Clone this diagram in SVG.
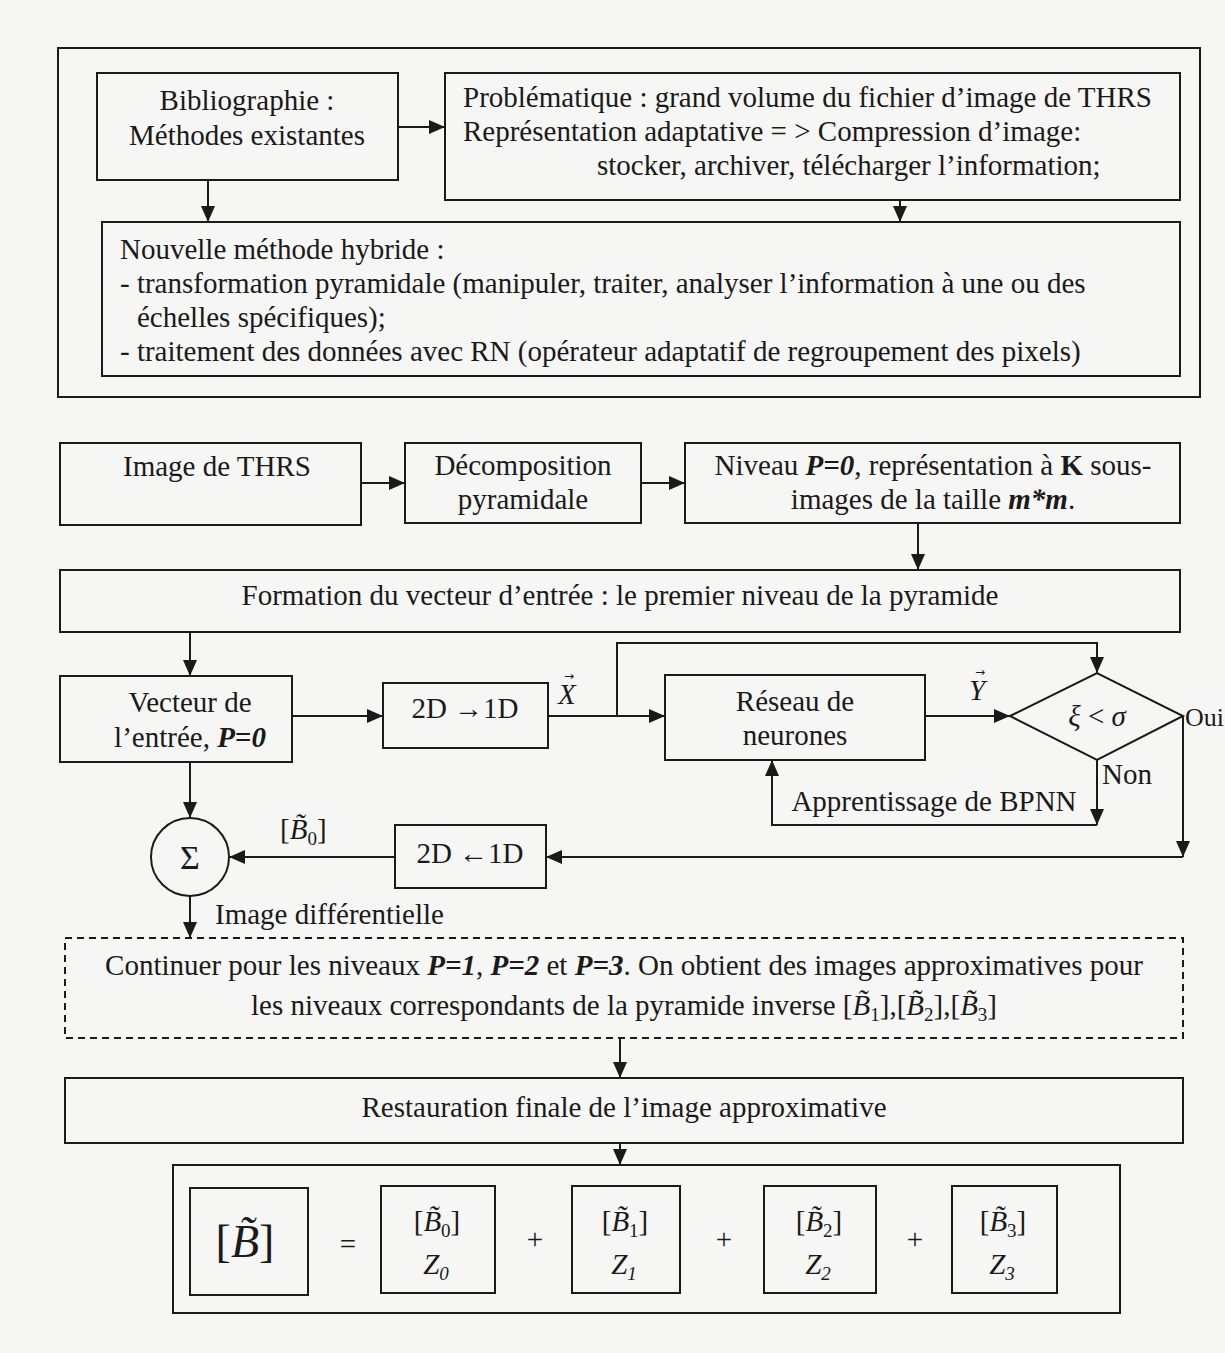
<svg xmlns="http://www.w3.org/2000/svg" width="1225" height="1353" viewBox="0 0 1225 1353">
<style>
.bx{fill:none;stroke:#1a1a1a;stroke-width:2}
.ln{fill:none;stroke:#1a1a1a;stroke-width:2}
.t{font-family:"Liberation Serif","Times New Roman",serif;font-size:29px;fill:#1a1a1a}
.c{text-anchor:middle}
.bi{font-weight:bold;font-style:italic}
.i{font-style:italic}
.sub{font-size:19px}
.vec{font-family:"DejaVu Sans",sans-serif;font-size:12px;fill:#1a1a1a}
</style>
<defs>
<marker id="ar" markerUnits="userSpaceOnUse" markerWidth="16" markerHeight="14" refX="16" refY="7" orient="auto">
<path d="M0,0 L16,7 L0,14 z" fill="#1a1a1a"/>
</marker>
</defs>
<rect width="1225" height="1353" fill="#f6f6f4"/>

<g id="outer-top"><rect class="bx" x="58" y="48" width="1142" height="349" stroke-width="1.5"/></g>

<g id="biblio"><rect class="bx" x="97" y="73" width="301" height="107"/>
<text class="t c" x="247" y="110">Bibliographie :</text>
<text class="t c" x="247" y="145">Méthodes existantes</text></g>

<g id="problematique"><rect class="bx" x="445" y="73" width="735" height="127"/>
<text class="t" x="463" y="107">Problématique : grand volume du fichier d’image de THRS</text>
<text class="t" x="463" y="141">Représentation adaptative = &gt; Compression d’image:</text>
<text class="t" x="597" y="175">stocker, archiver, télécharger l’information;</text></g>

<g id="nouvelle"><rect class="bx" x="102" y="222" width="1078" height="154"/>
<text class="t" x="120" y="259">Nouvelle méthode hybride :</text>
<text class="t" x="120" y="293">- transformation pyramidale (manipuler, traiter, analyser l’information à une ou des</text>
<text class="t" x="137" y="327">échelles spécifiques);</text>
<text class="t" x="120" y="361">- traitement des données avec RN (opérateur adaptatif de regroupement des pixels)</text></g>

<g id="image-thrs"><rect class="bx" x="60" y="443" width="301" height="82"/>
<text class="t c" x="217" y="476">Image de THRS</text></g>

<g id="decomposition"><rect class="bx" x="405" y="443" width="236" height="80"/>
<text class="t c" x="523" y="475">Décomposition</text>
<text class="t c" x="523" y="509">pyramidale</text></g>

<g id="niveau"><rect class="bx" x="685" y="443" width="495" height="80"/>
<text class="t c" x="933" y="475">Niveau <tspan class="bi">P=0</tspan>, représentation à <tspan font-weight="bold">K</tspan> sous-</text>
<text class="t c" x="933" y="509">images de la taille <tspan class="bi">m*m</tspan>.</text></g>

<g id="formation"><rect class="bx" x="60" y="570" width="1120" height="62"/>
<text class="t c" x="620" y="605">Formation du vecteur d’entrée : le premier niveau de la pyramide</text></g>

<g id="vecteur"><rect class="bx" x="60" y="676" width="232" height="86"/>
<text class="t c" x="190" y="712">Vecteur de</text>
<text class="t c" x="190" y="747">l’entrée, <tspan class="bi">P=0</tspan></text></g>

<g id="to1d"><rect class="bx" x="383" y="683" width="165" height="65"/>
<text class="t c" x="465" y="718">2D →1D</text></g>

<g id="reseau"><rect class="bx" x="665" y="675" width="260" height="85"/>
<text class="t c" x="795" y="711">Réseau de</text>
<text class="t c" x="795" y="745">neurones</text></g>

<g id="decision"><polygon class="bx" points="1010,716 1097,673 1183,716 1097,760"/>
<text class="t c" x="1097" y="726"><tspan class="i">ξ</tspan> &lt; <tspan class="i">σ</tspan></text></g>

<g id="to2d"><rect class="bx" x="395" y="825" width="151" height="63"/>
<text class="t c" x="470" y="863">2D ←1D</text></g>

<g id="sigma"><circle class="bx" cx="190" cy="857" r="39"/>
<text class="t c" x="190" y="869" style="font-size:34px">Σ</text></g>

<g id="continuer"><rect class="bx" x="65" y="938" width="1118" height="100" stroke-dasharray="7,5" stroke-width="1.6"/>
<text class="t c" x="624" y="975">Continuer pour les niveaux <tspan class="bi">P=1</tspan>, <tspan class="bi">P=2</tspan> et <tspan class="bi">P=3</tspan>.  On obtient des images approximatives pour</text>
<text class="t c" x="624" y="1015">les niveaux correspondants de la pyramide inverse [<tspan class="i">B̃</tspan><tspan class="sub" dy="6">1</tspan><tspan dy="-6">],[</tspan><tspan class="i">B̃</tspan><tspan class="sub" dy="6">2</tspan><tspan dy="-6">],[</tspan><tspan class="i">B̃</tspan><tspan class="sub" dy="6">3</tspan><tspan dy="-6">]</tspan></text></g>

<g id="restauration"><rect class="bx" x="65" y="1078" width="1118" height="65"/>
<text class="t c" x="624" y="1117">Restauration finale de l’image approximative</text></g>

<g id="formule"><rect class="bx" x="173" y="1165" width="947" height="148" stroke-width="1.6"/>
<rect class="bx" x="190" y="1188" width="118" height="107"/>
<text class="t c" x="245" y="1257" style="font-size:46px">[<tspan class="i">B̃</tspan>]</text>
<text class="t c" x="348" y="1254">=</text>
<rect class="bx" x="381" y="1186" width="114" height="107"/>
<text class="t c" x="437" y="1231">[<tspan class="i">B̃</tspan><tspan class="sub" dy="6">0</tspan><tspan dy="-6">]</tspan></text>
<text class="t c i" x="436" y="1274">Z<tspan class="sub" dy="6">0</tspan></text>
<text class="t c" x="535" y="1249">+</text>
<rect class="bx" x="572" y="1186" width="108" height="107"/>
<text class="t c" x="625" y="1231">[<tspan class="i">B̃</tspan><tspan class="sub" dy="6">1</tspan><tspan dy="-6">]</tspan></text>
<text class="t c i" x="624" y="1274">Z<tspan class="sub" dy="6">1</tspan></text>
<text class="t c" x="724" y="1249">+</text>
<rect class="bx" x="764" y="1186" width="112" height="107"/>
<text class="t c" x="819" y="1231">[<tspan class="i">B̃</tspan><tspan class="sub" dy="6">2</tspan><tspan dy="-6">]</tspan></text>
<text class="t c i" x="818" y="1274">Z<tspan class="sub" dy="6">2</tspan></text>
<text class="t c" x="915" y="1249">+</text>
<rect class="bx" x="952" y="1186" width="105" height="107"/>
<text class="t c" x="1003" y="1231">[<tspan class="i">B̃</tspan><tspan class="sub" dy="6">3</tspan><tspan dy="-6">]</tspan></text>
<text class="t c i" x="1002" y="1274">Z<tspan class="sub" dy="6">3</tspan></text></g>

<g id="connectors">
<line class="ln" x1="398" y1="127" x2="445" y2="127" marker-end="url(#ar)"/>
<line class="ln" x1="208" y1="180" x2="208" y2="222" marker-end="url(#ar)"/>
<line class="ln" x1="900" y1="200" x2="900" y2="222" marker-end="url(#ar)"/>
<line class="ln" x1="361" y1="483" x2="405" y2="483" marker-end="url(#ar)"/>
<line class="ln" x1="641" y1="483" x2="685" y2="483" marker-end="url(#ar)"/>
<line class="ln" x1="918" y1="523" x2="918" y2="570" marker-end="url(#ar)"/>
<line class="ln" x1="190" y1="632" x2="190" y2="676" marker-end="url(#ar)"/>
<line class="ln" x1="292" y1="716" x2="383" y2="716" marker-end="url(#ar)"/>
<line class="ln" x1="548" y1="716" x2="665" y2="716" marker-end="url(#ar)"/>
<polyline class="ln" points="617,716 617,643 1097,643 1097,673" marker-end="url(#ar)"/>
<line class="ln" x1="925" y1="716" x2="1010" y2="716" marker-end="url(#ar)"/>
<line class="ln" x1="1097" y1="760" x2="1097" y2="825" marker-end="url(#ar)"/>
<polyline class="ln" points="1097,825 772,825 772,760" marker-end="url(#ar)"/>
<line class="ln" x1="1183" y1="716" x2="1183" y2="857" marker-end="url(#ar)"/>
<line class="ln" x1="1183" y1="857" x2="546" y2="857" marker-end="url(#ar)"/>
<line class="ln" x1="395" y1="857" x2="229" y2="857" marker-end="url(#ar)"/>
<line class="ln" x1="190" y1="762" x2="190" y2="818" marker-end="url(#ar)"/>
<line class="ln" x1="190" y1="896" x2="190" y2="938" marker-end="url(#ar)"/>
<line class="ln" x1="620" y1="1038" x2="620" y2="1078" marker-end="url(#ar)"/>
<line class="ln" x1="620" y1="1143" x2="620" y2="1165" marker-end="url(#ar)"/>
<text class="t i" x="558" y="704">X</text>
<text class="vec" x="564" y="680">→</text>
<text class="t i" x="969" y="700">Y</text>
<text class="vec" x="975" y="676">→</text>
<text class="t" x="1185" y="726" style="font-size:26px">Oui</text>
<text class="t" x="1102" y="784">Non</text>
<text class="t c" x="934" y="811">Apprentissage de BPNN</text>
<text class="t" x="280" y="839">[<tspan class="i">B̃</tspan><tspan class="sub" dy="6">0</tspan><tspan dy="-6">]</tspan></text>
<text class="t" x="215" y="924">Image différentielle</text>
</g>
</svg>
